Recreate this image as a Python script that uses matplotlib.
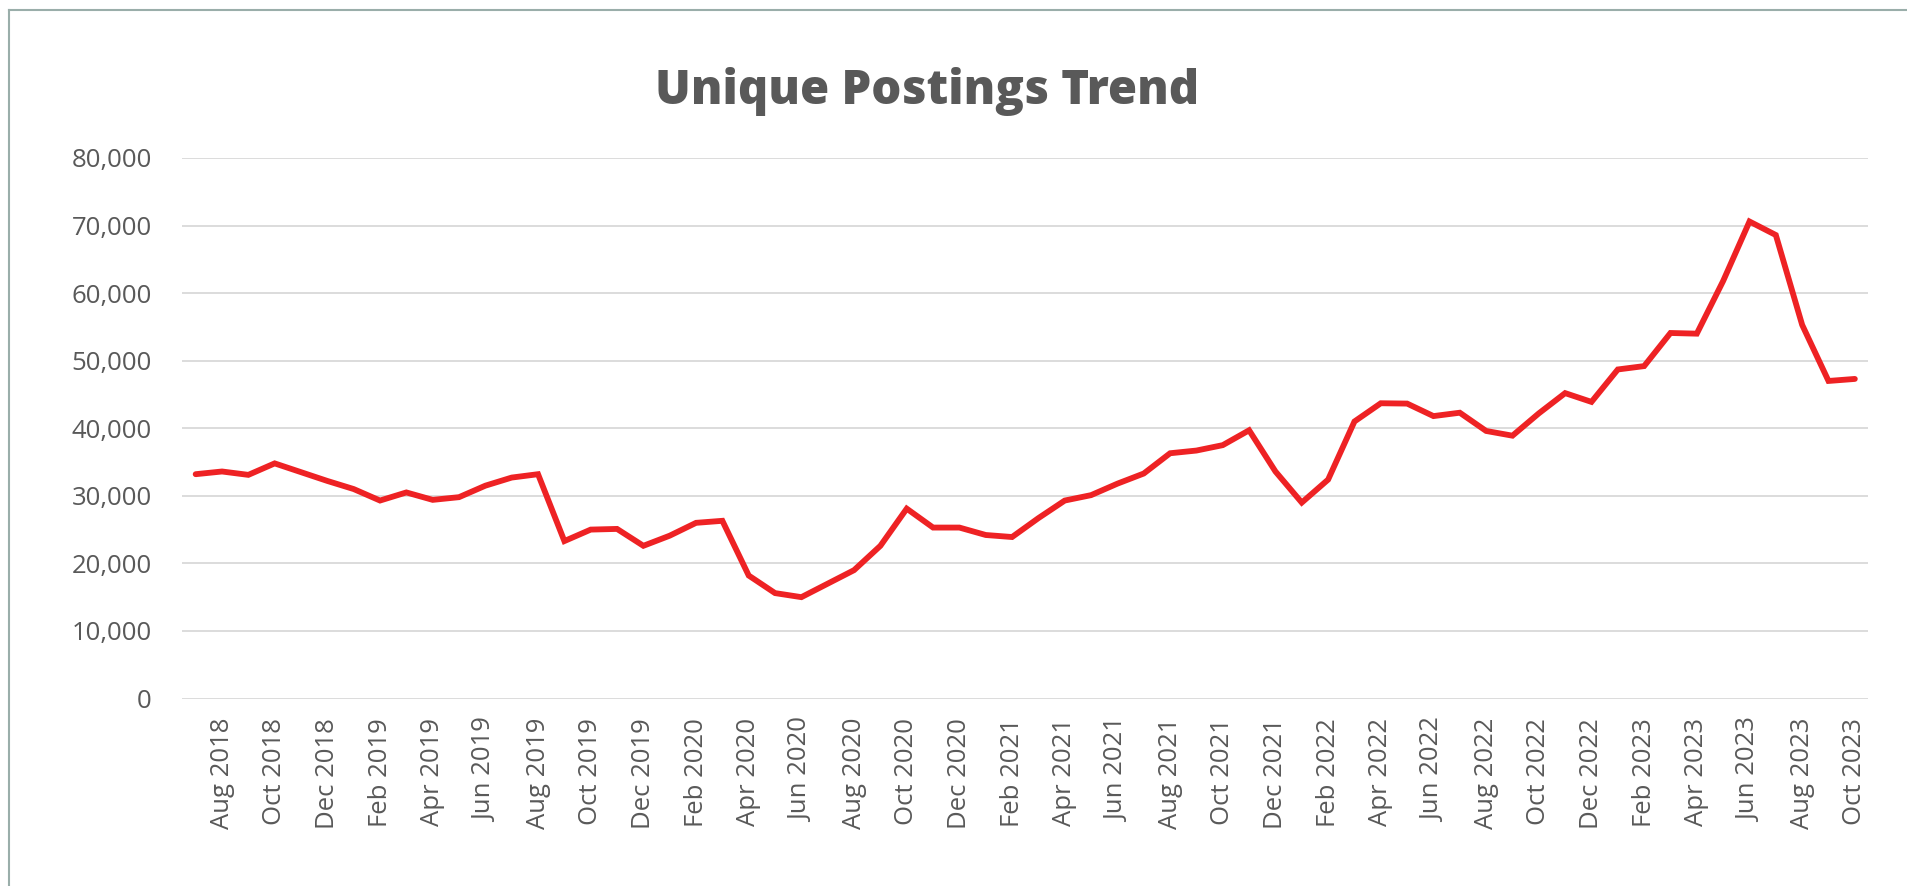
import matplotlib
matplotlib.use("Agg")
import matplotlib.pyplot as plt
from matplotlib.ticker import FuncFormatter, MultipleLocator
from matplotlib.lines import Line2D

month_names = ['Jan', 'Feb', 'Mar', 'Apr', 'May', 'Jun', 'Jul', 'Aug', 'Sep', 'Oct', 'Nov', 'Dec']
labels = []
y, m = 2018, 6
for _ in range(64):
    labels.append(f"{month_names[m]} {y}")
    m += 1
    if m == 12:
        m = 0
        y += 1

postings = [33200, 33600, 33100, 34800, 33500, 32200, 31000, 29300, 30500, 29400,
            29800, 31500, 32700, 33200, 23300, 25000, 25100, 22600, 24100, 26000,
            26300, 18200, 15600, 15000, 17000, 19000, 22600, 28100, 25300, 25300,
            24200, 23900, 26700, 29300, 30100, 31800, 33300, 36300, 36700, 37500,
            39700, 33600, 29000, 32400, 41000, 43700, 43650, 41800, 42300, 39600,
            38900, 42200, 45200, 43900, 48700, 49200, 54100, 54000, 61800, 70600,
            68600, 55300, 47000, 47300]

plt.rcParams['font.family'] = ['Open Sans', 'DejaVu Sans']

W, H = 1908, 886
fig = plt.figure(figsize=(W / 100, H / 100), dpi=100)
ax = fig.add_axes([182.5 / W, 1 - 698.5 / H, (1868 - 182.5) / W, (698.5 - 158) / H])

x = list(range(len(postings)))
ax.plot(x, postings, color='#EE2224', linewidth=4.2, solid_joinstyle='miter',
        solid_capstyle='round', zorder=3)

ax.set_xlim(-0.5, len(postings) - 0.5)
ax.set_ylim(0, 80000)
ax.yaxis.set_major_locator(MultipleLocator(10000))
ax.yaxis.set_major_formatter(FuncFormatter(lambda v, p: f"{int(v):,}"))
ax.set_xticks(x[1::2])
ax.set_xticklabels(labels[1::2], rotation=90)
ax.grid(axis='y', color='#d9d9d9', linewidth=1.3, zorder=0)
ax.grid(axis='x', visible=False)
for s in ax.spines.values():
    s.set_visible(False)
ax.tick_params(axis='both', length=0, colors='#595959', labelsize=18.5)
ax.tick_params(axis='y', pad=22)
ax.tick_params(axis='x', pad=14)

fig.text(927 / W, 1 - 104 / H, "Unique Postings Trend", ha='center', va='baseline',
         fontsize=34, fontweight=800, color='#595959')

# outer frame (top and left edges visible)
fig.add_artist(Line2D([9 / W, 1.0], [1 - 10 / H, 1 - 10 / H], color='#9aaeaa', linewidth=1.5))
fig.add_artist(Line2D([9 / W, 9 / W], [0.0, 1 - 10 / H], color='#9aaeaa', linewidth=1.5))

fig.savefig("out.png", dpi=100, facecolor='white')
